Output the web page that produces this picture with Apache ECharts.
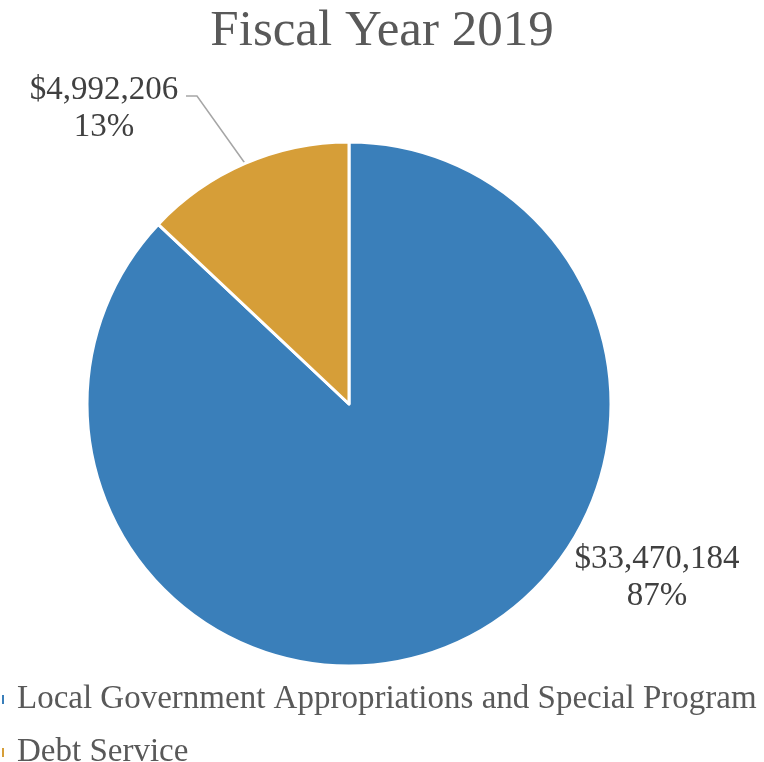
<!DOCTYPE html>
<html>
<head>
<meta charset="utf-8">
<script src="https://cdn.jsdelivr.net/npm/echarts@6/dist/echarts.min.js"></script>
<style>
html,body{margin:0;padding:0;background:#fff;}
#chart{width:764px;height:762px;}
</style>
</head>
<body>
<div id="chart"></div>
<script>
var titleText = 'Fiscal Year 2019';
var categories = ['Local Government Appropriations and Special Program', 'Debt Service'];
var values = [33470184, 4992206];
var colors = ['#3a7fba', '#d69e38'];

var FONT = '"Liberation Serif", "DejaVu Serif", serif';
var total = values.reduce(function (a, b) { return a + b; }, 0);
function money(v) { return '$' + v.toLocaleString('en-US'); }

var chart = echarts.init(document.getElementById('chart'));
chart.setOption({
  backgroundColor: '#ffffff',
  animation: false,
  title: {
    text: titleText,
    left: 'center',
    top: 1,
    textStyle: { fontFamily: FONT, fontSize: 51, fontWeight: 'normal', color: '#595959' }
  },
  legend: {
    orient: 'vertical',
    left: 0,
    top: 683,
    height: 120,
    padding: 0,
    icon: 'rect',
    itemWidth: 4,
    itemHeight: 11,
    itemGap: 20,
    textStyle: { fontFamily: FONT, fontSize: 33, color: '#595959', padding: [0, 0, 0, 7] },
    data: categories
  },
  series: [{
    type: 'pie',
    center: [349, 404],
    radius: [0, 262],
    startAngle: 90,
    clockwise: true,
    itemStyle: { borderColor: '#ffffff', borderWidth: 3 },
    label: {
      show: true,
      position: 'outside',
      fontFamily: FONT,
      fontSize: 33,
      lineHeight: 37,
      color: '#404040',
      align: 'center',
      formatter: function (p) {
        return money(p.value) + '\n' + Math.round(p.value / total * 100) + '%';
      }
    },
    labelLine: { show: true, lineStyle: { color: '#a6a6a6', width: 1.5 }, length: 20, length2: 10 },
    labelLayout: function (p) {
      if (p.dataIndex === 0) {
        return { x: 657, y: 578, align: 'center', verticalAlign: 'middle' };
      }
      var s = p.labelLinePoints ? p.labelLinePoints[0] : [245, 163];
      return {
        x: 104, y: 109, align: 'center', verticalAlign: 'middle',
        labelLinePoints: [s, [197, 96], [186, 96]]
      };
    },
    data: categories.map(function (c, i) {
      return {
        name: c,
        value: values[i],
        itemStyle: { color: colors[i] },
        labelLine: { show: i === 1 }
      };
    })
  }]
});
</script>
</body>
</html>
